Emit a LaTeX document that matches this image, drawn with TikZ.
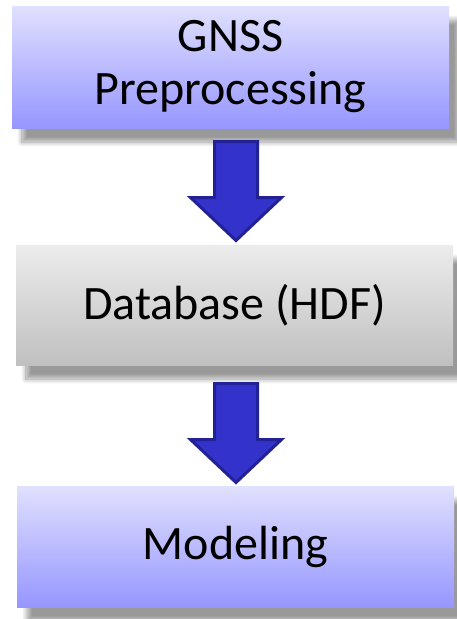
\documentclass[tikz,border=0pt]{standalone}
\usepackage{fontspec}
\setmainfont{Carlito}
\usetikzlibrary{shadows.blur}
\definecolor{lavtop}{RGB}{224,224,255}
\definecolor{lavbot}{RGB}{150,150,255}
\definecolor{greytop}{RGB}{236,236,236}
\definecolor{greybot}{RGB}{192,192,192}
\definecolor{arrfill}{RGB}{51,51,204}
\definecolor{arredge}{RGB}{34,34,150}
\tikzset{
  box/.style={rectangle, minimum width=437pt, inner sep=0pt, align=center,
    font=\fontsize{48}{53}\selectfont,
    blur shadow={shadow xshift=10pt, shadow yshift=-14pt, shadow blur radius=5pt, shadow blur steps=12, shadow opacity=40}},
  lavbox/.style={box, top color=lavtop, bottom color=lavbot},
  greybox/.style={box, top color=greytop, bottom color=greybot},
  downarrow/.pic={
    \draw[fill=arrfill, draw=arredge, line width=3pt, line join=miter]
      (-21.5,1.5) -- (21.5,1.5) -- (21.5,57.5) -- (45.5,57.5) -- (0,100.5)
      -- (-45.5,57.5) -- (-21.5,57.5) -- cycle;
  }
}
\begin{document}
\begin{tikzpicture}[x=1pt,y=-1pt]
\useasboundingbox (0,0) rectangle (456,619);
\node[lavbox, minimum height=122pt] (pre) at (230.5,67) {GNSS\\Preprocessing};
\node[greybox, minimum height=120pt] (db) at (234.5,305) {Database (HDF)};
\node[lavbox, minimum height=121pt] (mod) at (235.5,546.5) {Modeling};
\pic (a1) at (236,140) {downarrow};
\pic (a2) at (236,382) {downarrow};
\end{tikzpicture}
\end{document}
